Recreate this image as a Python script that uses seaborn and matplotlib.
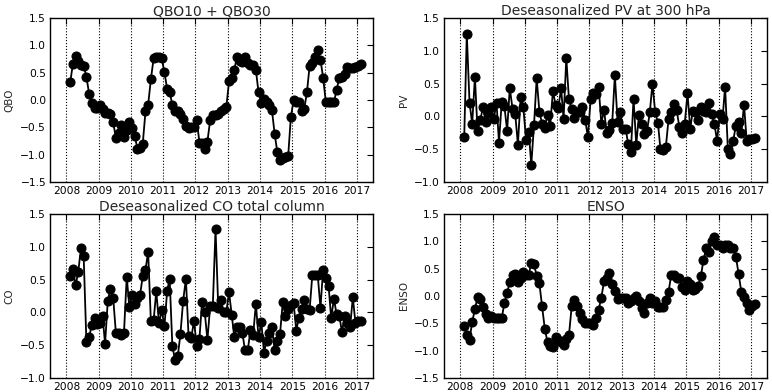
import matplotlib
matplotlib.use("Agg")
import matplotlib.pyplot as plt
import numpy as np
import pandas as pd
import seaborn as sns

# monthly values, Jan 2008 - Jan 2017
qbo = [0.33, 0.66, 0.80, 0.72, 0.64, 0.63, 0.43, 0.11, -0.05, -0.15, -0.14, -0.09,
       -0.17, -0.23, -0.23, -0.26, -0.40, -0.70, -0.61, -0.45, -0.67, -0.54, -0.40, -0.52,
       -0.65, -0.90, -0.87, -0.80, -0.21, -0.09, 0.38, 0.76, 0.79, 0.79, 0.76, 0.51,
       0.20, 0.15, -0.09, -0.21, -0.21, -0.25, -0.35, -0.48, -0.51, -0.50, -0.50, -0.37,
       -0.78, -0.78, -0.90, -0.76, -0.37, -0.27, -0.27, -0.26, -0.21, -0.17, -0.13, 0.34,
       0.41, 0.55, 0.79, 0.71, 0.69, 0.79, 0.67, 0.64, 0.64, 0.55, 0.14, -0.05,
       0.02, -0.03, -0.09, -0.18, -0.62, -0.95, -1.09, -1.07, -1.05, -1.03, -0.32, 0.00,
       -0.04, -0.04, -0.21, -0.17, 0.14, 0.62, 0.67, 0.79, 0.91, 0.74, 0.41, -0.04,
       -0.04, -0.04, -0.04, 0.18, 0.41, 0.43, 0.48, 0.61, 0.58, 0.58, 0.60, 0.63,
       0.66]

pv = [-0.32, 1.26, 0.21, -0.11, 0.60, -0.23, -0.05, 0.14, -0.09, 0.05, 0.15, -0.04,
      0.21, -0.40, 0.22, 0.16, -0.22, 0.43, 0.12, 0.03, -0.43, 0.29, 0.15, -0.36,
      -0.24, -0.74, -0.13, 0.58, 0.07, -0.11, -0.18, 0.02, -0.14, 0.39, 0.17, 0.13,
      0.43, -0.04, 0.89, 0.26, 0.11, -0.02, 0.06, 0.06, 0.14, -0.05, -0.32, 0.26,
      0.36, 0.34, 0.45, -0.11, 0.10, -0.26, -0.20, -0.10, 0.63, -0.09, 0.07, -0.19,
      -0.19, -0.42, -0.54, 0.27, -0.43, 0.02, -0.11, -0.27, -0.22, 0.06, 0.50, 0.06,
      -0.10, -0.50, -0.52, -0.47, -0.04, 0.07, 0.19, 0.09, -0.16, -0.26, -0.11, 0.35,
      -0.19, 0.08, 0.06, -0.05, 0.15, 0.08, 0.06, 0.20, 0.03, -0.11, -0.37, 0.03,
      -0.04, 0.45, -0.49, -0.58, -0.37, -0.14, -0.09, -0.26, 0.18, -0.38, -0.35, -0.34,
      -0.33]

co = [0.56, 0.66, 0.41, 0.62, 0.98, 0.86, -0.45, -0.38, -0.19, -0.09, -0.18, -0.16,
      -0.06, -0.48, 0.18, 0.36, 0.22, -0.31, -0.31, -0.35, -0.31, 0.54, 0.08, 0.27,
      0.12, 0.22, 0.27, 0.55, 0.65, 0.92, -0.14, -0.12, 0.32, -0.17, 0.03, -0.21,
      0.33, 0.51, -0.52, -0.72, -0.67, -0.33, 0.18, 0.51, -0.36, -0.39, -0.13, -0.51,
      -0.40, 0.16, 0.00, -0.42, 0.09, 0.10, 1.27, 0.06, 0.19, 0.01, 0.00, 0.31,
      -0.04, -0.37, -0.22, -0.22, -0.31, -0.58, -0.58, -0.27, -0.35, 0.13, -0.38, -0.15,
      -0.62, -0.43, -0.31, -0.23, -0.57, -0.43, -0.33, 0.16, -0.05, 0.05, 0.11, 0.14,
      -0.28, -0.08, 0.05, 0.19, 0.05, 0.03, 0.57, 0.57, 0.57, 0.07, 0.65, 0.52,
      0.40, -0.09, 0.21, -0.03, -0.05, -0.30, -0.05, -0.16, -0.23, 0.23, -0.17, -0.13,
      -0.13]

enso = [-0.55, -0.71, -0.80, -0.48, -0.24, -0.02, -0.06, -0.20, -0.33, -0.40, -0.37, -0.41,
        -0.41, -0.41, -0.41, -0.13, 0.06, 0.25, 0.39, 0.41, 0.25, 0.33, 0.44, 0.39,
        0.39, 0.61, 0.58, 0.37, 0.23, -0.19, -0.60, -0.85, -0.91, -0.93, -0.75, -0.80,
        -0.84, -0.90, -0.79, -0.72, -0.19, -0.07, -0.19, -0.31, -0.42, -0.50, -0.50, -0.50,
        -0.53, -0.40, -0.25, -0.03, 0.27, 0.33, 0.42, 0.21, 0.09, -0.06, -0.04, -0.04,
        -0.04, -0.13, -0.10, -0.04, 0.00, -0.10, -0.22, -0.31, -0.13, -0.04, -0.13, -0.10,
        -0.20, -0.20, -0.20, -0.07, 0.07, 0.39, 0.39, 0.32, 0.33, 0.17, 0.10, 0.27,
        0.21, 0.10, 0.12, 0.19, 0.36, 0.66, 0.87, 0.80, 1.01, 1.07, 0.93, 0.94,
        0.87, 0.93, 0.93, 0.87, 0.88, 0.72, 0.40, 0.07, -0.02, -0.13, -0.26, -0.19,
        -0.14]

dates = pd.date_range("2008-01-15", periods=len(qbo), freq="MS") + pd.Timedelta(days=14)
t = dates.year + (dates.dayofyear - 1) / 365.25
years = list(range(2008, 2018))

panels = [
    (qbo, "QBO10 + QBO30", "QBO", (-1.5, 1.5)),
    (pv, "Deseasonalized PV at 300 hPa", "PV", (-1.0, 1.5)),
    (co, "Deseasonalized CO total column", "CO", (-1.0, 1.5)),
    (enso, "ENSO", "ENSO", (-1.5, 1.5)),
]

sns.set_style("white")
plt.rcParams["font.family"] = ["DejaVu Sans"]

fig, axes = plt.subplots(2, 2, figsize=(7.72, 3.92), dpi=100)
fig.subplots_adjust(left=0.065, right=0.9935, top=0.954, bottom=0.036,
                    wspace=0.22, hspace=0.195)

for ax, (vals, title, ylab, ylim) in zip(axes.flat, panels):
    df = pd.DataFrame({"t": t, "v": vals})
    sns.lineplot(data=df, x="t", y="v", ax=ax, color="black", linewidth=1.3,
                 marker="o", markersize=6.5, markeredgecolor="black")
    ax.set_xlim(2007.5, 2017.5)
    ax.set_ylim(*ylim)
    ax.set_xticks(years)
    ax.set_xticklabels([str(y) for y in years])
    ax.set_yticks(np.arange(ylim[0], ylim[1] + 0.01, 0.5))
    ax.xaxis.grid(True, linestyle=":", color="black", linewidth=0.8)
    ax.yaxis.grid(False)
    ax.tick_params(direction="in", top=True, right=True, length=4,
                   labelsize=7.7, pad=3, colors="black")
    for s in ax.spines.values():
        s.set_color("black")
        s.set_linewidth(1.0)
    ax.set_title(title, fontsize=10, pad=2)
    ax.set_xlabel("")
    ax.set_ylabel(ylab, fontsize=7.5, labelpad=4)

fig.savefig("out.png", dpi=100)
